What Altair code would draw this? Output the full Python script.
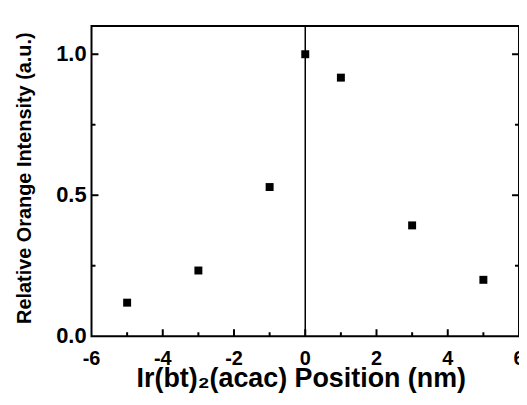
import altair as alt
import pandas as pd

# Data
positions = [-5, -3, -1, 0, 1, 3, 5]
intensity = [0.119, 0.233, 0.529, 1.0, 0.917, 0.393, 0.200]

x_label_values = [-6, -4, -2, 0, 2, 4, 6]
x_label_texts = ["-6", "-4", "-2", "0", "2", "4", "6"]
y_label_values = [0.0, 0.5, 1.0]
y_label_texts = ["0.0", "0.5", "1.0"]
x_major_ticks = [-4, -2, 0, 2, 4]
x_minor_ticks = [-5, -3, -1, 1, 3, 5]
y_major_ticks = [0.5, 1.0]
y_minor_ticks = [0.25, 0.75]
x_title = "Ir(bt)\u2082(acac) Position (nm)"
y_title = "Relative Orange Intensity (a.u.)"

FONT = "Liberation Sans"
W, H = 430, 312

df = pd.DataFrame({"pos": positions, "val": intensity})

xscale = alt.Scale(domain=[-6, 6], nice=False, zero=False)
yscale = alt.Scale(domain=[0, 1.1], nice=False)

points = alt.Chart(df).mark_square(size=64, color="black", opacity=1).encode(
    x=alt.X("pos:Q", scale=xscale, axis=None),
    y=alt.Y("val:Q", scale=yscale, axis=None),
)

vline = alt.Chart(pd.DataFrame({"x0": [0]})).mark_rule(color="black", strokeWidth=1.5).encode(
    x=alt.X("x0:Q", scale=xscale, axis=None)
)

def xticks(vals, length):
    d = pd.DataFrame({"t": vals})
    return alt.Chart(d).mark_rule(color="black", strokeWidth=2).encode(
        x=alt.X("t:Q", scale=xscale, axis=None),
        y=alt.value(H),
        y2=alt.value(H - length),
    )

def yticks(vals, length, side):
    d = pd.DataFrame({"t": vals})
    if side == "left":
        x0, x1 = 0, length
    else:
        x0, x1 = W, W - length
    return alt.Chart(d).mark_rule(color="black", strokeWidth=2).encode(
        y=alt.Y("t:Q", scale=yscale, axis=None),
        x=alt.value(x0),
        x2=alt.value(x1),
    )

xlabels = alt.Chart(pd.DataFrame({"v": x_label_values, "s": x_label_texts})).mark_text(
    font=FONT, fontWeight="bold", fontSize=20, color="black",
    align="center", baseline="top",
).encode(
    x=alt.X("v:Q", scale=xscale, axis=None),
    y=alt.value(H + 13),
    text="s:N",
)

ylabels = alt.Chart(pd.DataFrame({"v": y_label_values, "s": y_label_texts})).mark_text(
    font=FONT, fontWeight="bold", fontSize=22, color="black",
    align="right", baseline="middle",
).encode(
    y=alt.Y("v:Q", scale=yscale, axis=None),
    x=alt.value(-5),
    text="s:N",
)

xtitle = alt.Chart(pd.DataFrame({"s": [x_title]})).mark_text(
    font=FONT, fontWeight="bold", fontSize=27, color="black",
    align="center", baseline="alphabetic",
).encode(
    x=alt.value(W / 2 - 4),
    y=alt.value(H + 51),
    text="s:N",
)

ytitle = alt.Chart(pd.DataFrame({"s": [y_title]})).mark_text(
    font=FONT, fontWeight="bold", fontSize=20, color="black",
    align="center", baseline="middle", angle=270,
).encode(
    x=alt.value(-67),
    y=alt.value(H / 2 - 3),
    text="s:N",
)

chart = alt.layer(
    vline,
    xticks(x_major_ticks, 7), xticks(x_minor_ticks, 4),
    yticks(y_major_ticks, 7, "left"), yticks(y_minor_ticks, 4, "left"),
    yticks(y_major_ticks, 7, "right"), yticks(y_minor_ticks, 4, "right"),
    points,
    xlabels, ylabels, xtitle, ytitle,
).properties(
    width=W, height=H,
    autosize=alt.AutoSizeParams(type="none"),
    padding={"left": 84, "top": 17, "right": 0, "bottom": 60},
    background="white",
).configure_view(stroke="black", strokeWidth=2)

chart.save("out.html", embed_options={"renderer": "svg", "actions": False})
